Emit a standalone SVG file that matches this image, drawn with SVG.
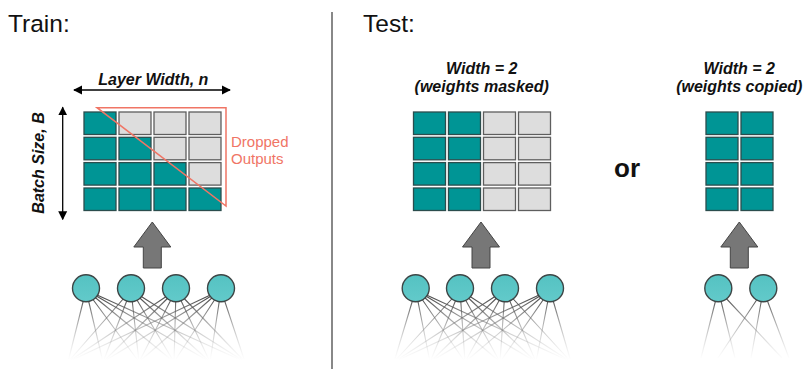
<svg xmlns="http://www.w3.org/2000/svg" width="804" height="369" viewBox="0 0 804 369">
<style>
.title{font-family:"Liberation Sans",Arial,sans-serif;font-size:24.5px;fill:#111}
.lbl{font-family:"Liberation Sans",Arial,sans-serif;font-size:16px;font-weight:bold;font-style:italic;fill:#111}
.drop{font-family:"Liberation Sans",Arial,sans-serif;font-size:15px;fill:#f07565}
.or{font-family:"Liberation Sans",Arial,sans-serif;font-size:26px;font-weight:bold;fill:#111}
.on{fill:#009595;stroke:#2b4d4d;stroke-width:1.3}
.off{fill:#dddddd;stroke:#5e5e5e;stroke-width:1.3}
.node{fill:url(#nodeFill);stroke:#3d4545;stroke-width:1.4}
.big{fill:#777;stroke:#444;stroke-width:1}
.edge{stroke:url(#fade);stroke-width:1.1;fill:none}
</style>
<defs>
<linearGradient id="fade" gradientUnits="userSpaceOnUse" x1="0" y1="298" x2="0" y2="360">
<stop offset="0" stop-color="#444" stop-opacity="0.95"/>
<stop offset="1" stop-color="#bbb" stop-opacity="0"/>
</linearGradient>
<linearGradient id="nodeFill" x1="0" y1="0" x2="0" y2="1">
<stop offset="0" stop-color="#55c2c2"/>
<stop offset="1" stop-color="#62caca"/>
</linearGradient>
<marker id="ah" viewBox="0 0 10 10" refX="9" refY="5" markerWidth="9" markerHeight="11" markerUnits="userSpaceOnUse" orient="auto-start-reverse">
<path d="M0,0 L10,5 L0,10 z" fill="#000"/>
</marker>
<polygon id="bigArrow" class="big" points="0,222 18.5,247 9,247 9,268 -9,268 -9,247 -18.5,247"/>
<rect id="c" width="32" height="22.5"/>
</defs>

<text class="title" x="8" y="31.5">Train:</text>
<text class="title" x="363" y="31.5">Test:</text>
<line x1="332" y1="12" x2="332" y2="369" stroke="#888" stroke-width="2"/>

<g id="connectors">
<!-- train network -->
<path class="edge" d="M86,290L68,362M86,290L103,362M86,290L139,362M86,290L174,362M86,290L210,362M86,290L245,362"/>
<path class="edge" d="M131,290L68,362M131,290L103,362M131,290L139,362M131,290L174,362M131,290L210,362M131,290L245,362"/>
<path class="edge" d="M176,290L68,362M176,290L103,362M176,290L139,362M176,290L174,362M176,290L210,362M176,290L245,362"/>
<path class="edge" d="M221,290L68,362M221,290L103,362M221,290L139,362M221,290L174,362M221,290L210,362M221,290L245,362"/>
<!-- masked network -->
<path class="edge" d="M415.7,290L394,362M415.7,290L430,362M415.7,290L465,362M415.7,290L500,362M415.7,290L536,362M415.7,290L571,362"/>
<path class="edge" d="M460,290L394,362M460,290L430,362M460,290L465,362M460,290L500,362M460,290L536,362M460,290L571,362"/>
<path class="edge" d="M505,290L394,362M505,290L430,362M505,290L465,362M505,290L500,362M505,290L536,362M505,290L571,362"/>
<path class="edge" d="M550,290L394,362M550,290L430,362M550,290L465,362M550,290L500,362M550,290L536,362M550,290L571,362"/>
<!-- copied network -->
<path class="edge" d="M718.3,290L701,358M718.3,290L735,358M718.3,290L782,358"/>
<path class="edge" d="M763.3,290L718,358M763.3,290L751,358M763.3,290L789,358"/>
<!-- dimension arrows -->
<line x1="74" y1="90" x2="230" y2="90" stroke="#000" stroke-width="1.3" marker-start="url(#ah)" marker-end="url(#ah)"/>
<line x1="62.7" y1="107.3" x2="62.7" y2="219.3" stroke="#000" stroke-width="1.3" marker-start="url(#ah)" marker-end="url(#ah)"/>
<!-- big gray arrows -->
<use href="#bigArrow" x="152.3"/>
<use href="#bigArrow" x="481"/>
<use href="#bigArrow" x="739.3"/>
</g>

<g id="train-labels">
<text class="lbl" x="153.3" y="84.5" text-anchor="middle">Layer Width, n</text>
<text class="lbl" transform="translate(43.5,163) rotate(-90)" text-anchor="middle">Batch Size, B</text>
</g>

<g id="train-grid">
<use href="#c" class="on" x="84" y="112"/>
<use href="#c" class="off" x="119" y="112"/>
<use href="#c" class="off" x="154" y="112"/>
<use href="#c" class="off" x="189" y="112"/>
<use href="#c" class="on" x="84" y="137.3"/>
<use href="#c" class="on" x="119" y="137.3"/>
<use href="#c" class="off" x="154" y="137.3"/>
<use href="#c" class="off" x="189" y="137.3"/>
<use href="#c" class="on" x="84" y="162.6"/>
<use href="#c" class="on" x="119" y="162.6"/>
<use href="#c" class="on" x="154" y="162.6"/>
<use href="#c" class="off" x="189" y="162.6"/>
<use href="#c" class="on" x="84" y="188"/>
<use href="#c" class="on" x="119" y="188"/>
<use href="#c" class="on" x="154" y="188"/>
<use href="#c" class="on" x="189" y="188"/>
</g>

<g id="dropped">
<polygon points="97,107.7 226,107.7 226,206" fill="none" stroke="#f07565" stroke-width="1.5"/>
<text class="drop" x="231" y="147.3">Dropped</text>
<text class="drop" x="231" y="164.3">Outputs</text>
</g>

<g id="train-nodes">
<circle class="node" cx="86" cy="288.3" r="13.5"/>
<circle class="node" cx="131" cy="288.3" r="13.5"/>
<circle class="node" cx="176" cy="288.3" r="13.5"/>
<circle class="node" cx="221" cy="288.3" r="13.5"/>
</g>

<g id="masked-grid">
<text class="lbl" x="481.7" y="74" text-anchor="middle">Width = 2</text>
<text class="lbl" x="481.7" y="92" text-anchor="middle">(weights masked)</text>
<use href="#c" class="on" x="413.5" y="112"/>
<use href="#c" class="on" x="448.5" y="112"/>
<use href="#c" class="off" x="483.5" y="112"/>
<use href="#c" class="off" x="518.5" y="112"/>
<use href="#c" class="on" x="413.5" y="137.3"/>
<use href="#c" class="on" x="448.5" y="137.3"/>
<use href="#c" class="off" x="483.5" y="137.3"/>
<use href="#c" class="off" x="518.5" y="137.3"/>
<use href="#c" class="on" x="413.5" y="162.6"/>
<use href="#c" class="on" x="448.5" y="162.6"/>
<use href="#c" class="off" x="483.5" y="162.6"/>
<use href="#c" class="off" x="518.5" y="162.6"/>
<use href="#c" class="on" x="413.5" y="188"/>
<use href="#c" class="on" x="448.5" y="188"/>
<use href="#c" class="off" x="483.5" y="188"/>
<use href="#c" class="off" x="518.5" y="188"/>
</g>

<g id="masked-nodes">
<circle class="node" cx="415.7" cy="288.3" r="13.5"/>
<circle class="node" cx="460" cy="288.3" r="13.5"/>
<circle class="node" cx="505" cy="288.3" r="13.5"/>
<circle class="node" cx="550" cy="288.3" r="13.5"/>
</g>

<g id="or-label">
<text class="or" x="614" y="177">or</text>
</g>

<g id="copied-grid">
<text class="lbl" x="739.3" y="74" text-anchor="middle">Width = 2</text>
<text class="lbl" x="739.3" y="92" text-anchor="middle">(weights copied)</text>
<use href="#c" class="on" x="706" y="112"/>
<use href="#c" class="on" x="741" y="112"/>
<use href="#c" class="on" x="706" y="137.3"/>
<use href="#c" class="on" x="741" y="137.3"/>
<use href="#c" class="on" x="706" y="162.6"/>
<use href="#c" class="on" x="741" y="162.6"/>
<use href="#c" class="on" x="706" y="188"/>
<use href="#c" class="on" x="741" y="188"/>
</g>

<g id="copied-nodes">
<circle class="node" cx="718.3" cy="288.3" r="13.5"/>
<circle class="node" cx="763.3" cy="288.3" r="13.5"/>
</g>
</svg>
